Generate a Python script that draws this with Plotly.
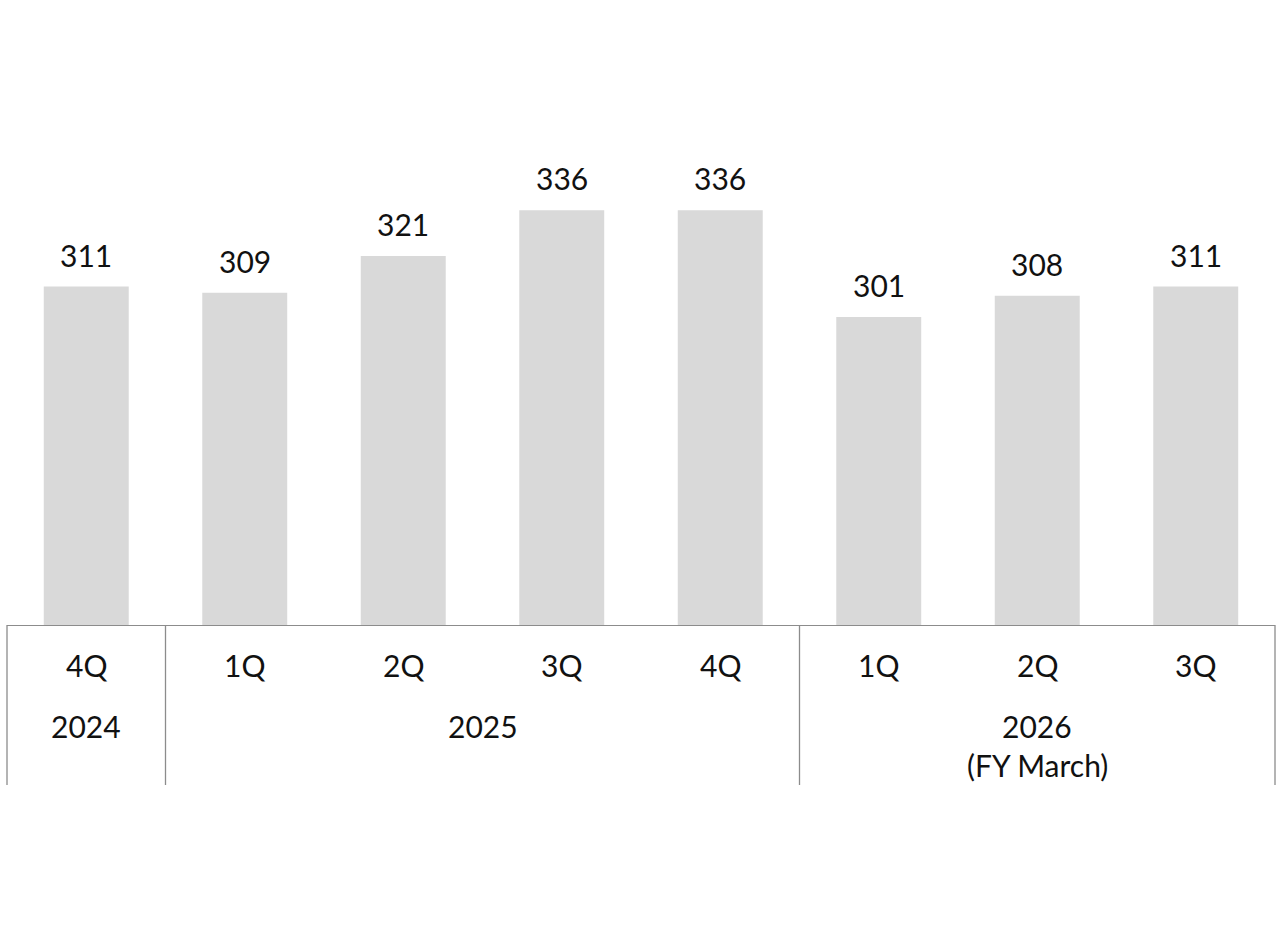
import plotly.graph_objects as go

# ---- data ----
quarters = ["4Q", "1Q", "2Q", "3Q", "4Q", "1Q", "2Q", "3Q"]
fiscal_years = ["2024", "2025", "2025", "2025", "2025", "2026", "2026", "2026"]
values = [311, 309, 321, 336, 336, 301, 308, 311]
year_groups = ["2024", "2025", "2026"]
year_subtitles = {"2026": "(FY March)"}

# ---- styles ----
FONT = "Lato"
BAR_COLOR = "#d9d9d9"
LINE_COLOR = "#8c8c8c"
TEXT_COLOR = "#111111"
FS = 30

categories = [f"{y} {q}" for y, q in zip(fiscal_years, quarters)]
n = len(categories)

fig = go.Figure()
fig.add_trace(go.Bar(
    x=categories, y=values, marker=dict(color=BAR_COLOR, line=dict(width=0)),
    hoverinfo="skip", showlegend=False,
))

annotations = []
# value labels above bars
for c, v in zip(categories, values):
    annotations.append(dict(x=c, y=v, xref="x", yref="y", text=str(v),
                            showarrow=False, yanchor="middle", yshift=32,
                            font=dict(family=FONT, size=FS, color=TEXT_COLOR)))
# quarter labels
for i, q in enumerate(quarters):
    annotations.append(dict(x=i, y=0, xref="x", yref="paper", text=q,
                            showarrow=False, yanchor="middle", yshift=-40,
                            font=dict(family=FONT, size=FS, color=TEXT_COLOR)))

shapes = []
# year group labels and dividers
bounds = [0]
for g in year_groups:
    idx = [i for i, y in enumerate(fiscal_years) if y == g]
    first, last = idx[0], idx[-1]
    bounds.append(last + 1)
    center = (first + last) / 2
    annotations.append(dict(x=center, y=0, xref="x", yref="paper", text=g,
                            showarrow=False, yanchor="middle", yshift=-101,
                            font=dict(family=FONT, size=FS, color=TEXT_COLOR)))
    if g in year_subtitles:
        annotations.append(dict(x=center, y=0, xref="x", yref="paper",
                                text=year_subtitles[g], showarrow=False,
                                yanchor="middle", yshift=-140,
                                font=dict(family=FONT, size=FS, color=TEXT_COLOR)))

PLOT_H = 625
for b in bounds:
    shapes.append(dict(type="line", xref="paper", yref="paper",
                       x0=b / n, x1=b / n, y0=0, y1=-160 / PLOT_H,
                       line=dict(color=LINE_COLOR, width=1.3)))

fig.update_layout(
    width=1280, height=946, autosize=False,
    margin=dict(l=7, r=5, t=0, b=946 - PLOT_H, pad=0),
    paper_bgcolor="white", plot_bgcolor="white",
    bargap=0.464,
    xaxis=dict(showline=True, linecolor=LINE_COLOR, linewidth=1.3,
               showticklabels=False, ticks="", showgrid=False, zeroline=False,
               fixedrange=True),
    yaxis=dict(range=[200, 405], visible=False, showgrid=False, fixedrange=True),
    annotations=annotations, shapes=shapes,
    font=dict(family=FONT, color=TEXT_COLOR),
)

fig.write_html("out.html", config={"displayModeBar": False},
               post_script="document.body.style.margin='0';")
